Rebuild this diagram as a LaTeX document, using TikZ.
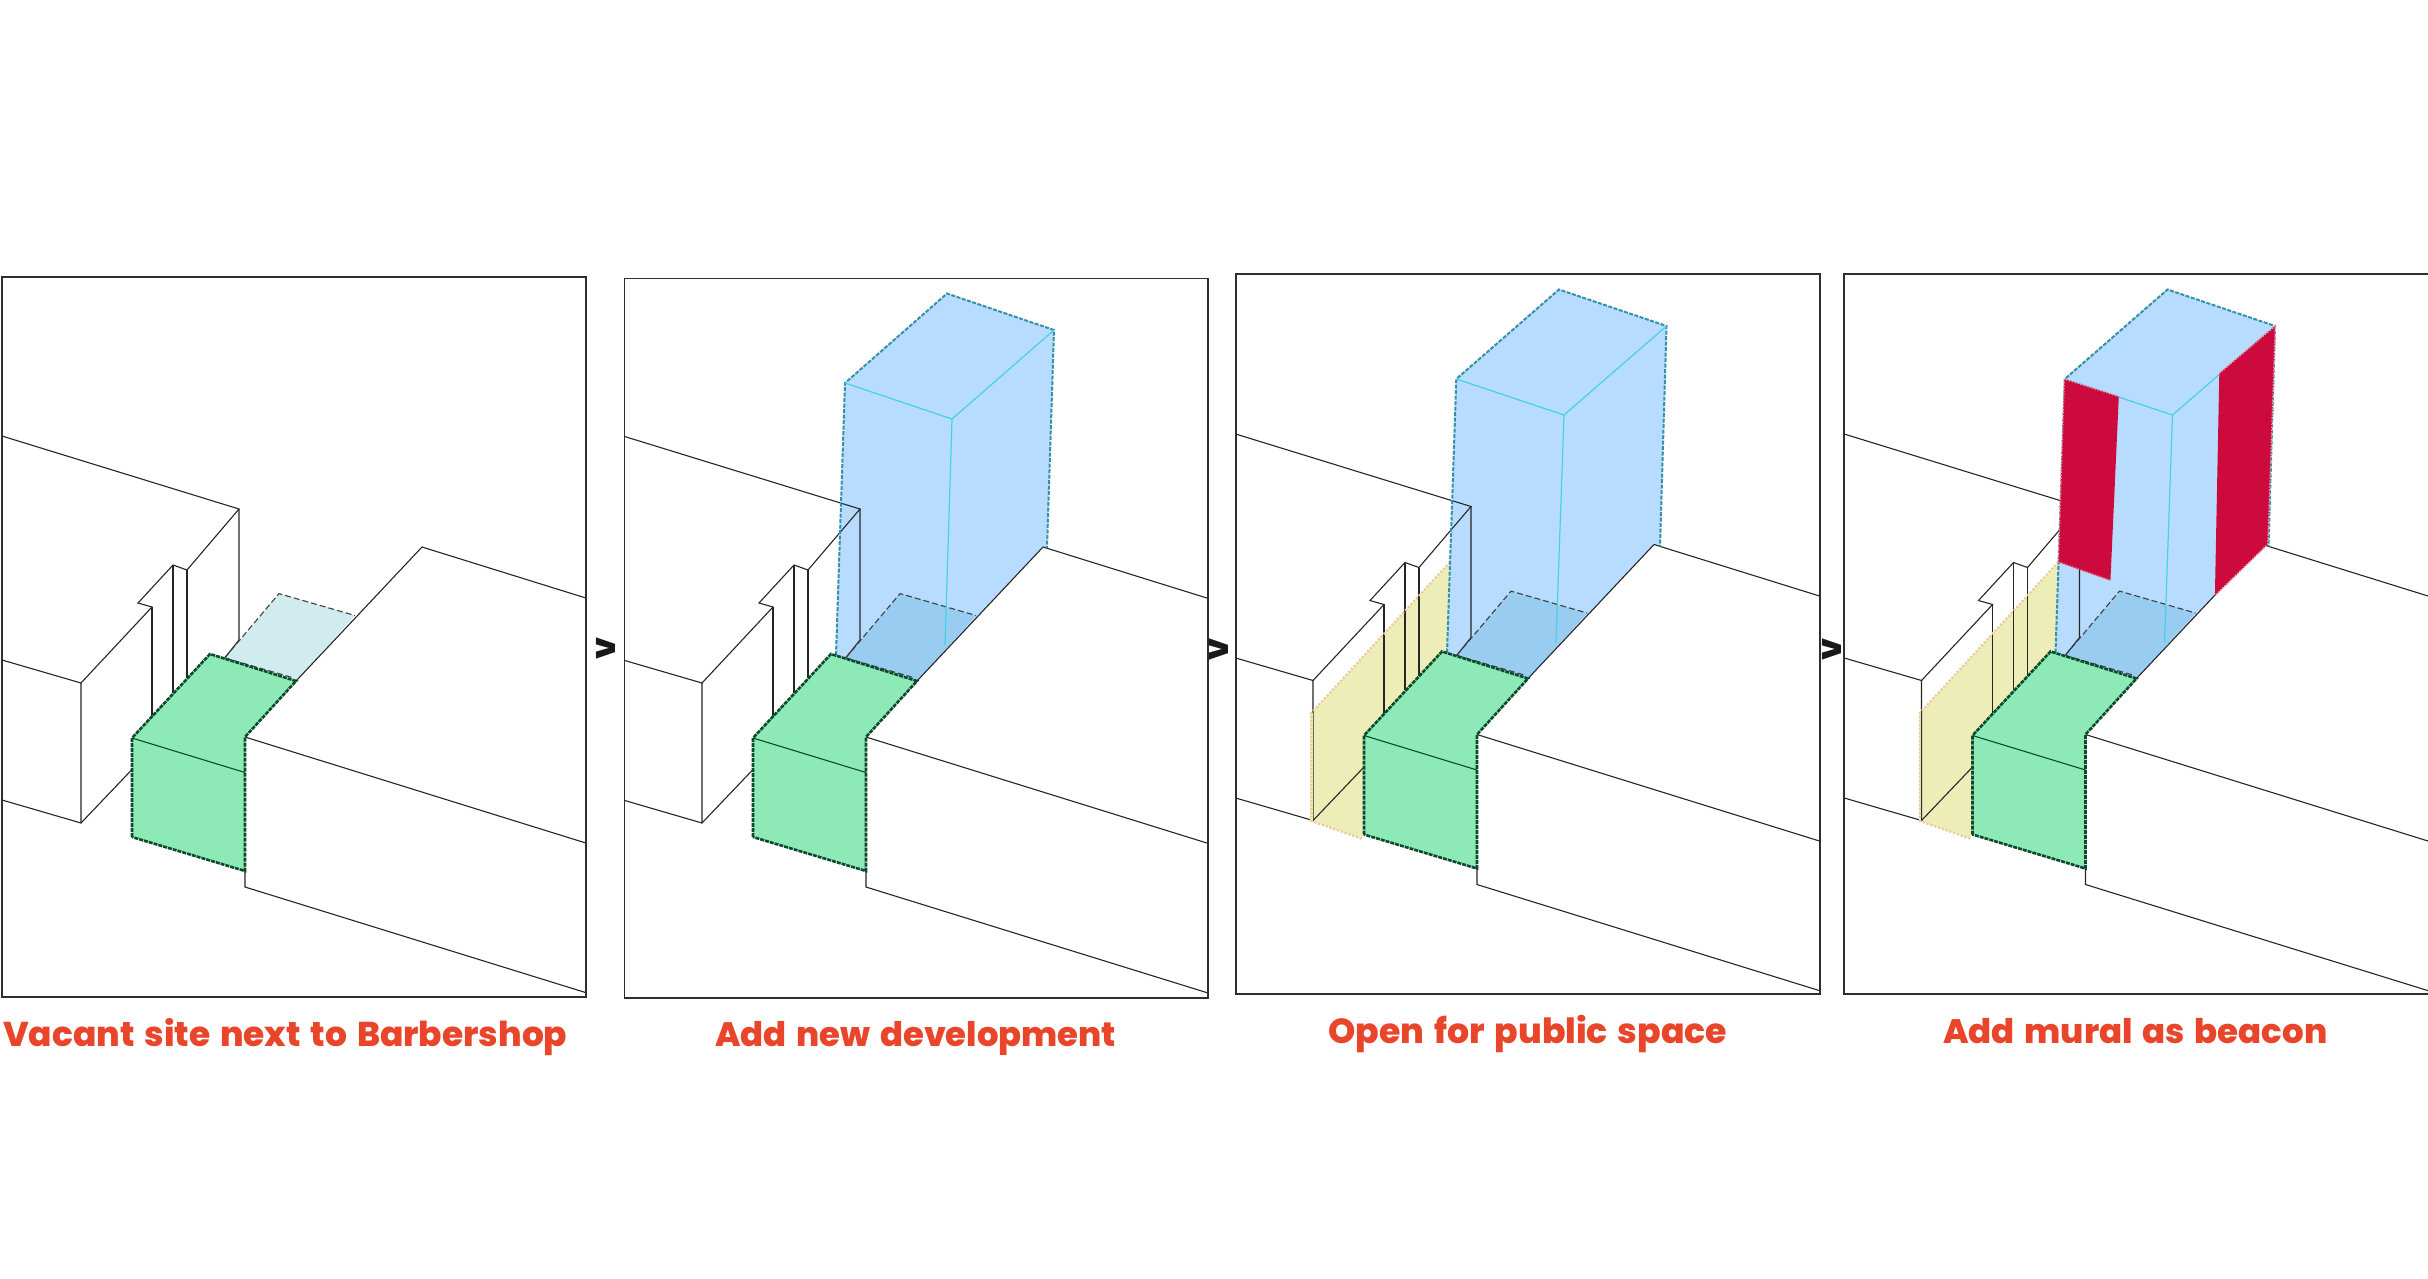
\documentclass[tikz,border=0pt]{standalone}
\usepackage{fontspec}
\usepackage{graphicx}
\setmainfont{Poppins}[BoldFont={Poppins ExtraBold},WordSpace=1.5]
\definecolor{cGreen}{HTML}{8DEAB6}
\definecolor{cGreenLn}{HTML}{0B4A2C}
\definecolor{cParcel}{HTML}{D0ECEF}
\definecolor{cBlue}{HTML}{B8DCFF}
\definecolor{cFloor}{HTML}{98CCF0}
\definecolor{cTeal}{HTML}{3590AA}
\definecolor{cCyan}{HTML}{45D2E6}
\definecolor{cYellow}{HTML}{EDEDB8}
\definecolor{cPeach}{HTML}{EFC79E}
\definecolor{cMural}{HTML}{CC0A3E}
\definecolor{cMuralLn}{HTML}{EE8FA0}
\definecolor{cRed}{HTML}{E8452A}
\definecolor{cFrame}{HTML}{2E2E2E}
\tikzset{
  ln/.style={draw=black!85,line width=1.1pt,line join=miter},
  framebox/.style={draw=cFrame,line width=1.7pt},
  parceldash/.style={draw=black!75,line width=1.1pt,dash pattern=on 6pt off 3pt},
  greenedge/.style={draw=cGreenLn,line width=2.6pt,dash pattern=on 4pt off 1pt},
  greeninner/.style={draw=cGreenLn,line width=1.1pt},
  toweredge/.style={draw=cTeal,line width=2pt,dash pattern=on 4pt off 1.5pt},
  towerinner/.style={draw=cCyan,line width=1.2pt},
  yellowcover/.style={draw=cYellow,line width=2.2pt},
  yellowedge/.style={draw=cPeach,line width=2.2pt,dash pattern=on 2pt off 2pt},
  muraledge/.style={draw=cMuralLn,line width=1.4pt,dash pattern=on 1.5pt off 1.5pt},
  caption/.style={inner sep=0pt,text=cRed,font=\bfseries,anchor=base west},
  vmark/.style={inner sep=0pt,rotate=90,font=\bfseries\fontsize{34}{34}\selectfont,text=black!90},
}
% shared drawing parts, in the coordinates of the first panel
\newcommand{\sitefloor}[1]{\fill[#1] (225,657.5) -- (279,593.6) -- (355,615.5) -- (296,681) -- (210,654) -- cycle;}
\newcommand{\sitedash}{\draw[parceldash] (225,657.5) -- (279,593.6) -- (355,615.5);
  \draw[parceldash] (225,658) -- (294,678);}
\newcommand{\yellowlot}{\fill[cYellow] (79.4,715.5) -- (217.8,564.5) -- (214.5,655.5) -- (132,738) -- (130.4,841.5) -- (79.4,823.5) -- cycle;}
\newcommand{\yellowedges}{%
  \draw[yellowcover] (79.4,715.5) -- (79.4,823.5);
  \draw[yellowedge] (217.8,564.5) -- (79.4,715.5) -- (79.4,823.5) -- (130.4,841.5);}
\newcommand{\towerfill}{\fill[cBlue] (215,655) -- (224+0.3*\tox,383+\toy) -- (326+\tox,293.5+\toy) -- (433+1.5*\tox,330+\toy) -- (426+2*\tox,548+\tox) -- (422,547) -- (296,681) -- (210,654) -- cycle;}
\newcommand{\toweredges}{\draw[toweredge] (215,655) -- (224+0.3*\tox,383+\toy) -- (326+\tox,293.5+\toy) -- (433+1.5*\tox,330+\toy) -- (426+2*\tox,548+\tox);
  \draw[towerinner] (224+0.3*\tox,383+\toy) -- (331+\tox,419+\toy) -- (433+1.5*\tox,330+\toy) (331+\tox,419+\toy) -- (324,645);}
\newcommand{\buildings}{%
  \draw[ln] (-10,432.3) -- (239,509) -- (187,570) -- (173,565) -- (138,603) -- (152,607) -- (81,683) -- (-10,656.5);
  \draw[ln] (239,509) -- (239,640) -- (225,657.5);
  \draw[ln] (173,565) -- (173,692.5);
  \draw[ln] (187,570) -- (187,678);
  \draw[ln] (152,607) -- (152,716);
  \draw[ln] (81,683) -- (81,823) -- (-10,796.5);
  \draw[ln] (81,823) -- (132,769.5);
  \draw[ln] (245,737) -- (600,847.4);
  \draw[ln] (245,871) -- (245,887) -- (600,997);
  \draw[ln] (296,681) -- (422,547) -- (600,602.4);}
\newcommand{\greenmass}{%
  \fill[cGreen] (132,738) -- (210,654) -- (296,681) -- (245,737) -- (245,871) -- (132,837) -- cycle;
  \draw[greeninner] (132,738) -- (245,772.5);
  \draw[greenedge] (132,837) -- (132,738) -- (210,654) -- (296,681) -- (245,737) -- (245,871) -- (132,837);}
\newcommand{\murals}{%
  \fill[cMural] (223.8,381.5) -- (278.3,399) -- (269.9,583) -- (217.8,564.5) -- cycle;
  \fill[cMural] (434.8,328.3) -- (378.8,375.8) -- (374.4,598) -- (427.3,546.7) -- cycle;
  \draw[muraledge] (278.3,399) -- (223.8,381.5) -- (217.8,564.5) -- (269.9,583);
  \draw[muraledge] (378.8,375.8) -- (434.8,328.3) -- (427.3,546.7) -- (374.4,598);}
\begin{document}
\begin{tikzpicture}[x=1pt,y=-1pt]
\useasboundingbox (0,0) rectangle (2428,1278);
\fill[white] (0,0) rectangle (2428,1278);
% panel 1
\begin{scope}
  \clip (2,277) rectangle (586,997);
  \sitefloor{cParcel}
  \buildings
  \sitedash
  \greenmass
\end{scope}
\draw[framebox] (2,277) rectangle (586,997);
% panel 2
\def\tox{0}\def\toy{0}
\begin{scope}
  \clip (624.5,278.5) rectangle (1208,998);
  \begin{scope}[shift={(621,0)}]
    \towerfill
    \sitefloor{cFloor}
    \buildings
    \sitedash
    \toweredges
    \greenmass
  \end{scope}
\end{scope}
\draw[framebox] (624.5,278.5) rectangle (1208,998);
% panel 3
\def\tox{1}\def\toy{-1.5}
\begin{scope}
  \clip (1236,274) rectangle (1820,994);
  \begin{scope}[shift={(1232,-2.5)}]
    \yellowlot
    \towerfill
    \sitefloor{cFloor}
    \buildings
    \yellowedges
    \sitedash
    \toweredges
    \greenmass
  \end{scope}
\end{scope}
\draw[framebox] (1236,274) rectangle (1820,994);
% panel 4
\begin{scope}
  \clip (1844,274) rectangle (2432,994);
  \begin{scope}[shift={(1840.5,-2.5)}]
    \yellowlot
    \towerfill
    \sitefloor{cFloor}
    \buildings
    \yellowedges
    \sitedash
    \toweredges
    \greenmass
    \murals
  \end{scope}
\end{scope}
\draw[framebox] (1844,274) rectangle (2432,994);
% separators
\node[vmark] (v1) at (606,648) {v};
\node[vmark] (v2) at (1219,649) {v};
\node[vmark] (v3) at (1832,649) {v};
% captions
\node[caption] (c1) at (3,1046) {\resizebox{564pt}{!}{Vacant site next to Barbershop}};
\node[caption] (c2) at (715,1046) {\resizebox{401pt}{!}{Add new development}};
\node[caption] (c3) at (1328,1043) {\resizebox{399pt}{!}{Open for public space}};
\node[caption] (c4) at (1943,1043) {\resizebox{384pt}{!}{Add mural as beacon}};
\end{tikzpicture}
\end{document}
